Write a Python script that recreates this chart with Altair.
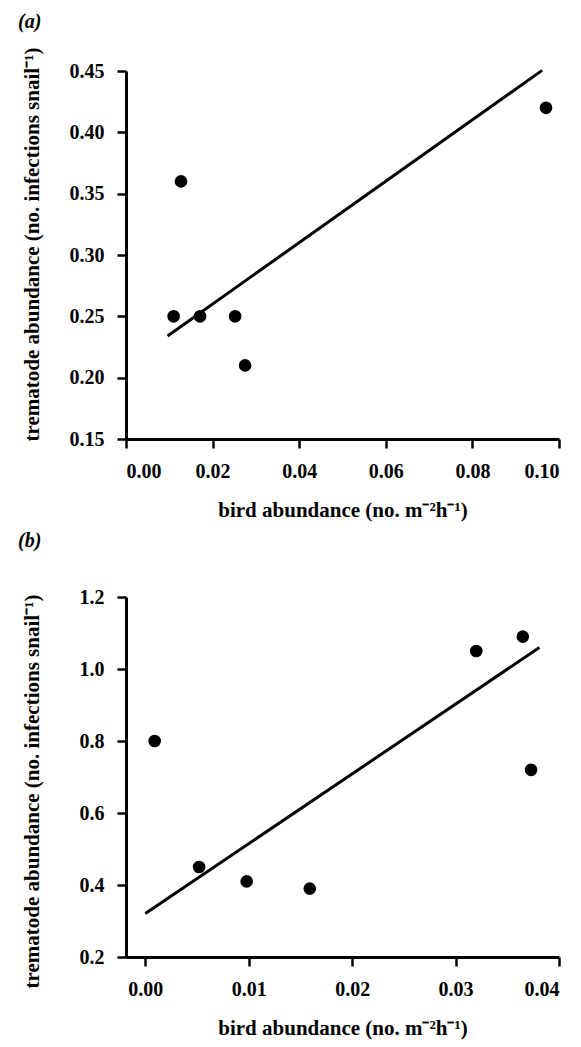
import altair as alt
import pandas as pd

# Panel (a): bird abundance vs trematode abundance
bird_a = [0.0110, 0.0127, 0.0171, 0.0252, 0.0275, 0.0970]
trem_a = [0.25, 0.36, 0.25, 0.25, 0.21, 0.42]
fit_a_x = [0.0096, 0.0961]
fit_a_y = [0.234, 0.4505]
x_ticks_a = [0.00, 0.02, 0.04, 0.06, 0.08, 0.10]
y_ticks_a = [0.15, 0.20, 0.25, 0.30, 0.35, 0.40, 0.45]

# Panel (b)
bird_b = [0.0009, 0.0052, 0.0098, 0.0159, 0.0320, 0.0365, 0.0373]
trem_b = [0.80, 0.45, 0.41, 0.39, 1.05, 1.09, 0.72]
fit_b_x = [0.0, 0.0381]
fit_b_y = [0.321, 1.0595]
x_ticks_b = [0.00, 0.01, 0.02, 0.03, 0.04]
y_ticks_b = [0.2, 0.4, 0.6, 0.8, 1.0, 1.2]

X_TITLE = "bird abundance (no. m\u207b\u00b2h\u207b\u00b9)"
Y_TITLE = "trematode abundance (no. infections snail\u207b\u00b9)"
FONT = "Liberation Serif"


def panel(label, xs, ys, fx, fy, xdom, ydom, xticks, yticks, yfmt,
          height, title_y, title_offset):
    pts = pd.DataFrame({"bird": xs, "trem": ys})
    fit = pd.DataFrame({"bird": fx, "trem": fy})
    x = alt.X(
        "bird:Q",
        scale=alt.Scale(domain=xdom, nice=False, zero=False),
        axis=alt.Axis(values=xticks, format=".2f", title=X_TITLE),
    )
    y = alt.Y(
        "trem:Q",
        scale=alt.Scale(domain=ydom, nice=False, zero=False),
        axis=alt.Axis(values=yticks, format=yfmt, title=Y_TITLE,
                      titleX=-88, titleY=title_y,
                      titleBaseline="alphabetic"),
    )
    dots = alt.Chart(pts).mark_circle(size=160, color="black", opacity=1).encode(x=x, y=y)
    line = alt.Chart(fit).mark_line(color="black", strokeWidth=3).encode(x=x, y=y)
    return (line + dots).properties(
        width=433,
        height=height,
        title=alt.TitleParams(
            text=label, anchor="start", frame="bounds", font=FONT,
            fontSize=20, fontWeight="bold", fontStyle="italic",
            color="black", offset=title_offset, dx=-3,
        ),
    )


chart_a = panel("(a)", bird_a, trem_a, fit_a_x, fit_a_y, [0.0, 0.10], [0.15, 0.45],
                x_ticks_a, y_ticks_a, ".2f", 368, 173, 15)
chart_b = panel("(b)", bird_b, trem_b, fit_b_x, fit_b_y, [-0.00187, 0.04], [0.2, 1.2],
                x_ticks_b, y_ticks_b, ".1f", 360, 194, 36)

chart = (
    alt.vconcat(chart_a, chart_b, spacing=11)
    .properties(padding={"left": 17, "top": 12, "right": 5, "bottom": 5}, background="white")
    .configure_view(stroke=None)
    .configure_axis(
        grid=False,
        domainColor="black", domainWidth=3,
        tickColor="black", tickWidth=2.5, tickSize=9,
        labelFont=FONT, labelFontSize=20, labelFontWeight="bold", labelColor="black",
        labelPadding=13,
        titleFont=FONT, titleFontSize=21, titleFontWeight="bold", titleColor="black",
        titlePadding=18,
    )
)

chart.save("out.html", embed_options={"renderer": "svg", "actions": False})
